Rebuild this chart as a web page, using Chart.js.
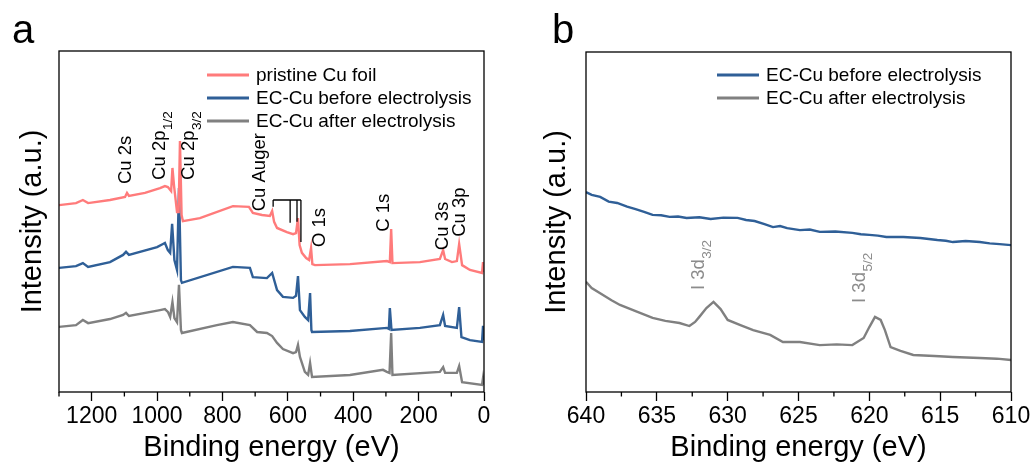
<!DOCTYPE html>
<html>
<head>
<meta charset="utf-8">
<script src="https://cdn.jsdelivr.net/npm/chart.js@4.4.0/dist/chart.umd.min.js"></script>
<style>
body { margin: 0; background: #fff; }
#wrap { position: relative; width: 1036px; height: 466px; }
#wrap canvas { position: absolute; top: 0; }
</style>
</head>
<body>
<div id="wrap">
<canvas id="chartA" width="518" height="466" style="left:0"></canvas>
<canvas id="chartB" width="518" height="466" style="left:518px"></canvas>
</div>
<script>
// ---- panel a: survey spectra (binding energy eV, intensity a.u.) ----
const pristineEnergy = [1300,1248,1227,1211,1144,1098,1092,1086,1037,991,976,967,957,953,948,939,934,930,925,921,869,768,719,707,679,655,648,642,633,603,584,575,569,564,557,544,535,529,525,517,410,297,288,284,280,196,135,125,119,98,83,76,67,43,6,3,0];
const pristineIntensity = [54.8,55.4,56.3,55.4,56.3,57.2,58.4,57.5,58.4,59.8,60.4,60.1,58.9,65.7,60.4,52.8,52.8,73.6,51.9,50.1,51.0,54.5,54.3,52.5,51.9,51.6,53.1,49.9,48.1,46.9,46.3,46.6,51.0,43.1,40.8,39.3,38.7,42.2,37.5,37.2,37.5,38.4,38.1,47.8,37.8,38.1,39.0,41.6,39.0,38.1,38.4,43.4,37.2,35.8,34.9,38.1,35.2];

const beforeEnergy = [1300,1248,1227,1211,1144,1104,1095,1086,1000,982,976,967,960,954,947,939,933,927,924,768,716,707,664,648,633,615,584,575,569,563,548,538,532,528,526,410,297,291,288,283,196,135,125,119,83,76,69,43,6,3,0];
const beforeIntensity = [36.4,36.9,37.8,36.7,38.1,40.2,41.1,40.2,42.5,43.4,43.7,41.6,40.8,49.3,38.7,35.8,59.8,32.8,32.0,36.7,36.4,33.7,33.4,34.9,29.9,27.9,27.6,28.2,34.0,24.0,22.0,21.1,29.0,18.2,17.6,17.9,18.8,18.5,24.6,18.2,18.8,19.6,22.6,19.4,18.8,24.9,16.1,15.2,14.7,19.4,15.2];

const afterEnergy = [1300,1248,1227,1211,1144,1104,1095,1086,991,976,967,960,953,947,939,933,927,924,817,768,716,694,664,648,633,615,584,575,569,563,548,538,532,526,410,309,297,289,284,280,135,125,119,83,76,67,6,3,0];
const afterIntensity = [19.1,19.6,21.1,20.2,21.4,22.6,23.2,22.3,24.0,24.3,23.5,22.0,26.4,21.7,20.5,31.4,18.2,17.3,19.6,20.5,19.6,17.6,17.3,16.4,14.4,12.6,11.4,11.7,13.8,10.3,5.9,5.0,8.5,4.4,5.0,6.5,5.9,5.6,17.3,5.0,5.9,7.3,5.6,5.6,7.6,2.9,2.1,4.1,2.1];

const surveyMajorTicks = [1200,1000,800,600,400,200,0];
const surveyMinorTicks = [1300,1100,900,700,500,300,100];

// ---- panel b: I 3d region ----
const i3dBeforeEnergy = [640,639.6,639.0,638.4,637.8,637.1,636.5,635.9,635.3,634.7,634.1,633.5,632.9,632.0,631.2,630.3,629.3,628.7,628.1,627.4,626.8,626.3,625.8,624.9,624.2,623.5,622.4,621.2,620.6,620.0,619.4,618.8,617.6,616.4,615.8,615.2,614.6,614.1,613.2,612.2,611.5,610.8,610];
const i3dBeforeIntensity = [58.8,58.0,57.4,56.0,55.6,54.5,53.8,53.0,52.1,52.0,51.5,51.6,51.2,51.4,50.9,51.3,51.2,50.6,50.3,49.4,48.5,48.8,48.2,47.6,47.8,47.1,47.2,46.8,46.4,46.2,46.0,45.6,45.6,45.3,45.0,44.7,44.5,44.1,44.4,44.1,43.7,43.5,43.2];
const i3dAfterEnergy = [640,639.6,638.8,638.2,637.6,636.5,635.3,634.4,633.4,632.7,632.3,632.0,631.5,631.0,630.5,630.0,629.1,628.2,627.0,626.1,624.9,623.5,622.3,621.2,620.4,620.0,619.6,619.2,618.9,618.5,617.8,616.9,615.4,614.1,612.2,611.0,610];
const i3dAfterIntensity = [32.4,30.6,28.5,27.0,25.6,23.8,21.8,20.9,20.3,19.4,20.6,22.1,24.7,26.5,24.4,21.2,19.7,18.2,16.8,14.7,14.7,13.8,14.0,13.8,15.9,19.1,22.1,21.2,18.2,13.2,12.1,10.9,10.6,10.3,10.0,9.8,9.4];

const i3dMajorTicks = [640,635,630,625,620,615,610];
const i3dMinorTicks = [637.5,632.5,627.5,622.5,617.5,612.5];

const FONT = '"Liberation Sans", Arial, sans-serif';
const RED = '#ff7b7b';
const BLUE = '#2f5f97';
const GRAY = '#808080';
Chart.defaults.font.family = FONT;
Chart.defaults.color = '#000';

function toPoints(xs, ys) {
    return xs.map((x, i) => ({ x: x, y: ys[i] }));
}

function lineSet(label, xs, ys, color) {
    return {
        label: label,
        data: toPoints(xs, ys),
        borderColor: color,
        backgroundColor: color,
        borderWidth: 2.4,
        pointRadius: 0,
        tension: 0
    };
}

// frame, minor ticks, panel letter, legend and peak labels
const decorations = {
    id: 'decorations',
    afterDraw(chart, args, opts) {
        const { ctx, chartArea: a, scales: { x, y } } = chart;
        ctx.save();
        ctx.strokeStyle = '#000';
        ctx.lineWidth = 1.3;
        ctx.strokeRect(a.left, a.top, a.right - a.left, a.bottom - a.top);
        ctx.beginPath();
        opts.minor.forEach(v => {
            const px = x.getPixelForValue(v);
            ctx.moveTo(px, a.bottom);
            ctx.lineTo(px, a.bottom + 4.5);
        });
        ctx.stroke();

        // panel letter
        ctx.fillStyle = '#000';
        ctx.font = '40px ' + FONT;
        ctx.textBaseline = 'alphabetic';
        ctx.textAlign = 'left';
        ctx.fillText(opts.letter, opts.letterX, 43);

        // legend
        ctx.font = '19px ' + FONT;
        ctx.textBaseline = 'middle';
        chart.data.datasets.forEach((ds, i) => {
            const ly = 75 + i * 23;
            ctx.strokeStyle = ds.borderColor;
            ctx.lineWidth = 3;
            ctx.beginPath();
            ctx.moveTo(opts.legendX, ly);
            ctx.lineTo(opts.legendX + 42, ly);
            ctx.stroke();
            ctx.fillStyle = '#000';
            ctx.fillText(ds.label, opts.legendX + 49, ly + 1);
        });

        // peak labels, rotated, reading bottom to top
        opts.labels.forEach(lb => {
            const px = x.getPixelForValue(lb.ev);
            const py = y.getPixelForValue(lb.at);
            ctx.save();
            ctx.translate(px, py);
            ctx.rotate(-Math.PI / 2);
            ctx.fillStyle = opts.labelColor;
            ctx.textBaseline = 'alphabetic';
            ctx.font = '18.5px ' + FONT;
            ctx.fillText(lb.text, 0, 0);
            if (lb.sub) {
                const w = ctx.measureText(lb.text).width;
                ctx.font = '13.5px ' + FONT;
                ctx.fillText(lb.sub, w + 0.5, 7);
            }
            ctx.restore();
        });

        // Auger bracket
        if (opts.bracket) {
            const b = opts.bracket;
            ctx.strokeStyle = '#000';
            ctx.lineWidth = 1.3;
            ctx.beginPath();
            const ty = y.getPixelForValue(b.top);
            ctx.moveTo(x.getPixelForValue(b.from), ty);
            ctx.lineTo(x.getPixelForValue(b.to), ty);
            b.legs.forEach(l => {
                const lx = x.getPixelForValue(l[0]);
                ctx.moveTo(lx, ty);
                ctx.lineTo(lx, y.getPixelForValue(l[1]));
            });
            ctx.stroke();
        }
        ctx.restore();
    }
};

function makeOptions(cfg) {
    return {
        responsive: false,
        animation: false,
        layout: { padding: { left: 0, right: cfg.padRight, top: cfg.padTop, bottom: 0 } },
        plugins: {
            legend: { display: false },
            tooltip: { enabled: false },
            decorations: cfg.deco
        },
        scales: {
            x: {
                type: 'linear',
                reverse: true,
                min: cfg.xMin,
                max: cfg.xMax,
                afterBuildTicks: s => { s.ticks = cfg.major.map(v => ({ value: v })); },
                afterFit: s => { s.height = 74; },
                ticks: {
                    autoSkip: false,
                    maxRotation: 0,
                    color: '#000',
                    font: { size: 23 },
                    padding: 2,
                    callback: v => String(v)
                },
                grid: { drawOnChartArea: false, tickLength: 9, tickColor: '#000', tickWidth: 1.3 },
                border: { display: false },
                title: {
                    display: true,
                    text: 'Binding energy (eV)',
                    color: '#000',
                    font: { size: 29 },
                    padding: { top: 0, bottom: 1 }
                }
            },
            y: {
                min: 0,
                max: 100,
                afterFit: s => { s.width = cfg.yWidth; },
                ticks: { display: false },
                grid: { display: false },
                border: { display: false },
                title: {
                    display: true,
                    text: 'Intensity (a.u.)',
                    color: '#000',
                    font: { size: 29 },
                    padding: { top: cfg.yTitlePad, bottom: 0 }
                }
            }
        }
    };
}

new Chart(document.getElementById('chartA'), {
    type: 'line',
    data: {
        datasets: [
            lineSet('pristine Cu foil', pristineEnergy, pristineIntensity, RED),
            lineSet('EC-Cu before electrolysis', beforeEnergy, beforeIntensity, BLUE),
            lineSet('EC-Cu after electrolysis', afterEnergy, afterIntensity, GRAY)
        ]
    },
    options: makeOptions({
        xMin: 0, xMax: 1300, major: surveyMajorTicks,
        padRight: 34, padTop: 51, yWidth: 59, yTitlePad: 16,
        deco: {
            minor: surveyMinorTicks,
            letter: 'a', letterX: 12,
            legendX: 207,
            labelColor: '#000',
            labels: [
                { text: 'Cu 2s', ev: 1080, at: 61 },
                { text: 'Cu 2p', sub: '1/2', ev: 976, at: 62.2 },
                { text: 'Cu 2p', sub: '3/2', ev: 887, at: 62.2 },
                { text: 'Cu Auger', ev: 670, at: 53 },
                { text: 'O 1s', ev: 486, at: 42.5 },
                { text: 'C 1s', ev: 291, at: 47 },
                { text: 'Cu 3s', ev: 110, at: 41.6 },
                { text: 'Cu 3p', ev: 58, at: 45.5 }
            ],
            bracket: { top: 56.3, from: 645, to: 560, legs: [[645, 54.3], [593, 49.6], [572, 49.9], [560, 44.0]] }
        }
    }),
    plugins: [decorations]
});

new Chart(document.getElementById('chartB'), {
    type: 'line',
    data: {
        datasets: [
            lineSet('EC-Cu before electrolysis', i3dBeforeEnergy, i3dBeforeIntensity, BLUE),
            lineSet('EC-Cu after electrolysis', i3dAfterEnergy, i3dAfterIntensity, GRAY)
        ]
    },
    options: makeOptions({
        xMin: 610, xMax: 640, major: i3dMajorTicks,
        padRight: 25, padTop: 52, yWidth: 68, yTitlePad: 22,
        deco: {
            minor: i3dMinorTicks,
            letter: 'b', letterX: 34,
            legendX: 199,
            labelColor: '#8c8c8c',
            labels: [
                { text: 'I 3d', sub: '3/2', ev: 631.7, at: 30 },
                { text: 'I 3d', sub: '5/2', ev: 620.3, at: 26.2 }
            ]
        }
    }),
    plugins: [decorations]
});
</script>
</body>
</html>
